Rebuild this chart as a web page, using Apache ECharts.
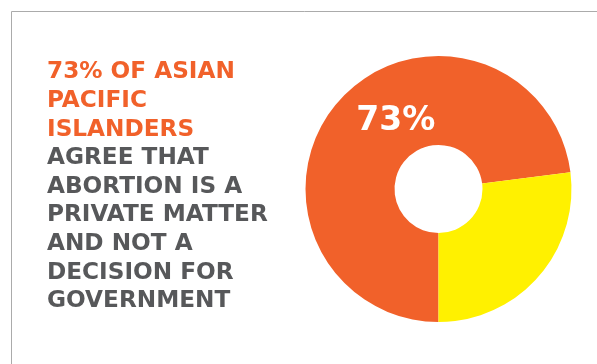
<!DOCTYPE html>
<html>
<head>
<meta charset="utf-8">
<script src="https://cdn.jsdelivr.net/npm/echarts@6/dist/echarts.min.js"></script>
<style>
html,body{margin:0;padding:0;background:#fff;}
#chart{width:597px;height:364px;}
</style>
</head>
<body>
<div id="chart"></div>
<script>
var categories = ['Private matter', 'Other'];
var values = [73, 27];
var sliceLabels = ['73%', ''];
var headlineOrange = ['73% OF ASIAN', 'PACIFIC', 'ISLANDERS'];
var headlineGray = ['AGREE THAT', 'ABORTION IS A', 'PRIVATE MATTER', 'AND NOT A', 'DECISION FOR', 'GOVERNMENT'];

var ORANGE = '#F1612A';
var YELLOW = '#FFF100';
var GRAY = '#57585A';
var FONT = 'DejaVu Sans';

var chart = echarts.init(document.getElementById('chart'));
var titleText = headlineOrange.map(function (s) { return '{o|' + s + '}'; })
  .concat(headlineGray.map(function (s) { return '{g|' + s + '}'; })).join('\n');

chart.setOption({
  backgroundColor: '#fff',
  animation: false,
  title: {
    text: titleText,
    left: 47,
    top: 58,
    padding: 0,
    textStyle: {
      rich: {
        o: { color: ORANGE, fontFamily: FONT, fontWeight: 'bold', fontSize: 23.2, lineHeight: 28.6 },
        g: { color: GRAY, fontFamily: FONT, fontWeight: 'bold', fontSize: 23.2, lineHeight: 28.6 }
      }
    }
  },
  graphic: [
    { type: 'line', shape: { x1: 11.5, y1: 11.5, x2: 597, y2: 11.5 }, style: { stroke: '#ababab', lineWidth: 1 } },
    { type: 'line', shape: { x1: 11.5, y1: 11.5, x2: 11.5, y2: 364 }, style: { stroke: '#ababab', lineWidth: 1 } }
  ],
  series: [{
    type: 'pie',
    center: [438.5, 189],
    radius: [44, 133],
    startAngle: -90,
    clockwise: true,
    silent: true,
    labelLine: { show: false },
    data: categories.map(function (c, i) {
      return {
        name: c,
        value: values[i],
        itemStyle: { color: i === 0 ? ORANGE : YELLOW },
        label: {
          show: i === 0,
          position: 'inside',
          formatter: sliceLabels[i],
          color: '#fff',
          fontFamily: FONT,
          fontWeight: 'bold',
          fontSize: 33,
          offset: [26, -7]
        }
      };
    })
  }]
});
</script>
</body>
</html>
